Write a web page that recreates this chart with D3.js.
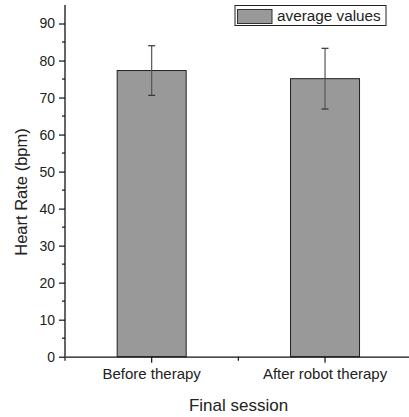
<!DOCTYPE html>
<html><head><meta charset="utf-8">
<script src="https://cdn.jsdelivr.net/npm/d3@7"></script>
<style>body{margin:0;background:#fff}svg{display:block}text{font-family:"Liberation Sans",Arial,sans-serif;fill:#222}</style>
</head><body>
<script>
const categories = ["Before therapy", "After robot therapy"];
const values = [77.3, 75.1];
const errors = [6.7, 8.2];
const yTicks = [0,10,20,30,40,50,60,70,80,90];
const legendLabel = "average values";
const xTitle = "Final session";
const yTitle = "Heart Rate (bpm)";

const W = 409, H = 417;
const m = {left: 65, top: 5, right: -2.7, bottom: 60.3};
const svg = d3.select("body").append("svg").attr("width", W).attr("height", H);
const y = d3.scaleLinear().domain([0, 95]).range([356.7, 5]);
const x = d3.scaleBand().domain(categories).range([65, 411.7]).paddingInner(0).paddingOuter(0);
const bw = 69;

// bars
svg.selectAll("rect.bar").data(values).enter().append("rect")
  .attr("x", (d,i) => x(categories[i]) + x.bandwidth()/2 - bw/2)
  .attr("y", d => y(d))
  .attr("width", bw)
  .attr("height", d => y(0) - y(d))
  .attr("fill", "#999999").attr("stroke", "#222").attr("stroke-width", 1);

// error bars
const eg = svg.append("g").attr("stroke", "#555").attr("stroke-width", 1.2);
values.forEach((v,i) => {
  const cx = x(categories[i]) + x.bandwidth()/2;
  eg.append("line").attr("x1", cx).attr("x2", cx).attr("y1", y(v+errors[i])).attr("y2", y(v-errors[i]));
  eg.append("line").attr("x1", cx-3.5).attr("x2", cx+3.5).attr("y1", y(v+errors[i])).attr("y2", y(v+errors[i])).attr("stroke","#333");
  eg.append("line").attr("x1", cx-3.5).attr("x2", cx+3.5).attr("y1", y(v-errors[i])).attr("y2", y(v-errors[i])).attr("stroke","#333");
});

// y axis
const yAxis = d3.axisLeft(y).tickValues(yTicks).tickSize(6).tickPadding(4).tickSizeOuter(0);
const gy = svg.append("g").attr("transform", "translate(65,0)").call(yAxis);
gy.select(".domain").attr("stroke", "#111").attr("stroke-width", 1.3).attr("d", `M0,${y(95)}V${y(0)}`);
gy.selectAll(".tick line").attr("stroke", "#111").attr("stroke-width", 1.2);
gy.selectAll(".tick text").style("font-size", "14px").attr("fill", "#222").style("font-family", "Liberation Sans, Arial, sans-serif");
const minorY = d3.range(5, 95, 10);
gy.selectAll(".minor").data(minorY).enter().append("line")
  .attr("x1", -3).attr("x2", 0).attr("y1", d => y(d)).attr("y2", d => y(d))
  .attr("stroke", "#111").attr("stroke-width", 1.2);

// x axis
const xAxis = d3.axisBottom(x).tickSize(6).tickPadding(6).tickSizeOuter(0);
const gx = svg.append("g").attr("transform", `translate(0,${y(0)})`).call(xAxis);
gx.select(".domain").attr("stroke", "#111").attr("stroke-width", 1.3);
gx.selectAll(".tick line").attr("stroke", "#111").attr("stroke-width", 1.2);
gx.selectAll(".tick text").style("font-size", "15px").attr("fill", "#222").style("font-family", "Liberation Sans, Arial, sans-serif");
const minorX = [x.range()[0], x(categories[1]), x.range()[1]];
gx.selectAll(".minor").data(minorX).enter().append("line")
  .attr("x1", d => d).attr("x2", d => d).attr("y1", 0).attr("y2", 4)
  .attr("stroke", "#111").attr("stroke-width", 1.2);

// titles
svg.append("text").attr("x", 238.5).attr("y", 411).attr("text-anchor", "middle").style("font-size", "17px").text(xTitle);
svg.append("text").attr("transform", "translate(27,192) rotate(-90)").attr("text-anchor", "middle").style("font-size", "16.5px").text(yTitle);

// legend
const lg = svg.append("g");
lg.append("rect").attr("x", 235).attr("y", 5.5).attr("width", 151).attr("height", 20).attr("fill", "#fff").attr("stroke", "#222").attr("stroke-width", 1);
lg.append("rect").attr("x", 237.5).attr("y", 9.5).attr("width", 34.5).attr("height", 14).attr("fill", "#999999").attr("stroke", "#333").attr("stroke-width", 1);
lg.append("text").attr("x", 277).attr("y", 21).style("font-size", "15.3px").text(legendLabel);
</script>
</body></html>
